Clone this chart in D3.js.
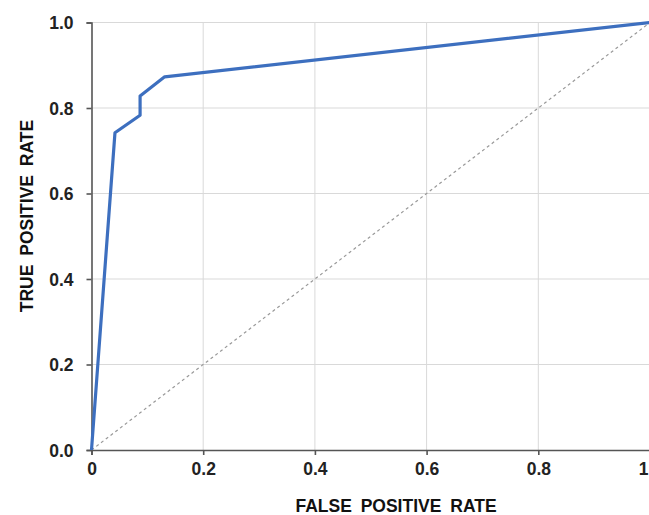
<!DOCTYPE html>
<html>
<head>
<meta charset="utf-8">
<script src="https://cdn.jsdelivr.net/npm/d3@7"></script>
<style>
  body { margin: 0; background: #fff; }
  svg { display: block; font-family: "Liberation Sans", Arial, sans-serif; }
  .tick text { font-size: 17.5px; font-weight: bold; fill: #222; }
  .grid line { stroke: #d9d9d9; stroke-width: 1; }
</style>
</head>
<body>
<svg id="chart" width="649" height="515"></svg>
<script>
// ROC curve points (false positive rate, true positive rate)
var fpr = [0, 0.042, 0.087, 0.087, 0.131, 1];
var tpr = [0, 0.742, 0.783, 0.828, 0.873, 1];
var xTicks = [0, 0.2, 0.4, 0.6, 0.8, 1];
var yTicks = [0, 0.2, 0.4, 0.6, 0.8, 1];
var xTitle = "FALSE POSITIVE RATE";
var yTitle = "TRUE POSITIVE RATE";

var svg = d3.select('#chart');
var x = d3.scaleLinear().domain([0, 1]).range([91.5, 650]);
var y = d3.scaleLinear().domain([0, 1]).range([450, 22.5]);

// grid
svg.append('g').attr('class', 'grid')
  .selectAll('line.h').data(yTicks.slice(1)).enter().append('line')
    .attr('x1', x(0)).attr('x2', x(1))
    .attr('y1', function(d) { return y(d); })
    .attr('y2', function(d) { return y(d); });
svg.append('g').attr('class', 'grid')
  .selectAll('line.v').data(xTicks.slice(1)).enter().append('line')
    .attr('y1', y(0)).attr('y2', y(1))
    .attr('x1', function(d) { return x(d); })
    .attr('x2', function(d) { return x(d); });

// diagonal reference
svg.append('line')
  .attr('x1', x(0)).attr('y1', y(0))
  .attr('x2', x(1)).attr('y2', y(1))
  .attr('stroke', '#999').attr('stroke-width', 1.2)
  .attr('stroke-dasharray', '3,3');

// axes
var xAxis = svg.append('g')
  .attr('transform', 'translate(0,' + y(0) + ')')
  .call(d3.axisBottom(x).tickValues(xTicks).tickSize(5).tickPadding(8)
    .tickFormat(function(d) { return d === 0 || d === 1 ? d3.format('d')(d) : d3.format('.1f')(d); }));
var yAxis = svg.append('g')
  .attr('transform', 'translate(' + x(0) + ',0)')
  .call(d3.axisLeft(y).tickValues(yTicks).tickSize(5).tickPadding(13).tickFormat(d3.format('.1f')));
[xAxis, yAxis].forEach(function(a) {
  a.select('.domain').attr('stroke', '#555').attr('stroke-width', 1.6);
  a.selectAll('.tick line').attr('stroke', '#555').attr('stroke-width', 1.6);
});
yAxis.selectAll('.tick text').attr('dy', '0.35em');
// last x label sits at the window edge: keep it inside
xAxis.selectAll('.tick text').filter(function(d) { return d === 1; })
  .attr('text-anchor', 'end').attr('x', -2);

// curve
var pts = fpr.map(function(d, i) { return [d, tpr[i]]; });
svg.append('path')
  .datum(pts)
  .attr('fill', 'none')
  .attr('stroke', '#3d6fbf')
  .attr('stroke-width', 3.2)
  .attr('stroke-linejoin', 'round')
  .attr('d', d3.line().x(function(d) { return x(d[0]); }).y(function(d) { return y(d[1]); }));

// titles
svg.append('text')
  .attr('x', 396).attr('y', 512)
  .attr('text-anchor', 'middle')
  .style('font-size', '17.5px').style('font-weight', 'bold').style('word-spacing', '4px')
  .attr('fill', '#111')
  .text(xTitle);
svg.append('text')
  .attr('transform', 'translate(33,216) rotate(-90)')
  .attr('text-anchor', 'middle')
  .style('font-size', '17.5px').style('font-weight', 'bold').style('word-spacing', '4px')
  .attr('fill', '#111')
  .text(yTitle);
</script>
</body>
</html>
